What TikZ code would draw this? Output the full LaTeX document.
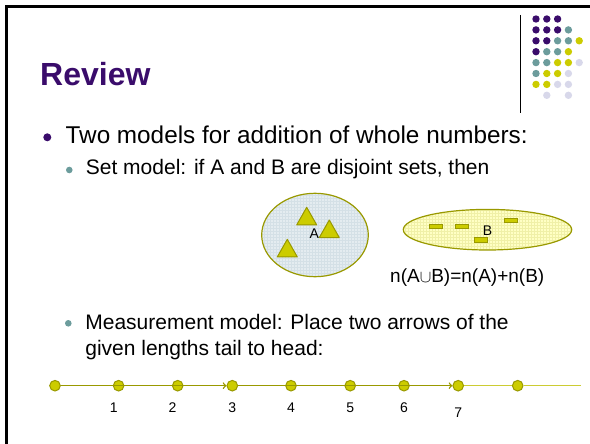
\documentclass[tikz,border=0pt]{standalone}
\usepackage{fontspec}
\setmainfont{Liberation Sans}
\usetikzlibrary{positioning,patterns}
\definecolor{titlepurple}{RGB}{58,12,107}
\definecolor{dotteal}{RGB}{108,156,156}
\definecolor{dotyellow}{RGB}{204,204,0}
\definecolor{dotlilac}{RGB}{216,216,234}
\definecolor{olivedark}{RGB}{153,153,0}
\definecolor{setblue}{RGB}{228,236,240}
\definecolor{setgrid}{RGB}{212,224,230}
\definecolor{setyellow}{RGB}{255,255,196}
\definecolor{lineyellow}{RGB}{204,204,51}

\begin{document}
\begin{tikzpicture}[x=1pt,y=-1pt,
  title/.style={anchor=base west,inner sep=0,text=titlepurple,font=\bfseries\fontsize{32}{38}\selectfont},
  lvlone/.style={anchor=base west,inner sep=0,font=\fontsize{24.3}{29}\selectfont},
  lvltwo/.style={anchor=base west,inner sep=0,font=\fontsize{21}{25}\selectfont},
  bulone/.style={circle,fill=titlepurple,minimum size=8pt,inner sep=0},
  bultwo/.style={circle,fill=dotteal,minimum size=6.6pt,inner sep=0},
  setbox/.style={draw=olivedark,line width=1.2pt},
  tri/.style={fill=dotyellow,draw=olivedark,line width=1pt,line join=round},
  bar/.style={fill=dotyellow,draw=olivedark,line width=0.9pt},
  small/.style={inner sep=0,font=\fontsize{14}{17}\selectfont},
  pt/.style={circle,fill=dotyellow,draw=olivedark,line width=1pt,minimum size=10.6pt,inner sep=0},
  numline/.style={lineyellow,line width=1pt},
  arrowA/.style={->,>=to,olivedark,line width=1.4pt}]
\useasboundingbox (0,0) rectangle (590,444);

%cadre
\draw[line width=2.7pt] (6.3,444) -- (6.3,6.3) -- (590,6.3);

%logo
\draw[line width=1.3pt] (520.5,15) -- (520.5,113.3);
\foreach \c/\r in {0/0,1/0,2/0,0/1,1/1,2/1,0/2,1/2,0/3}
  \fill[titlepurple] (536+10.8*\c,19+10.9*\r) circle (3.7pt);
\foreach \c/\r in {3/1,2/2,3/2,1/3,2/3,0/4,1/4,0/5}
  \fill[dotteal] (536+10.8*\c,19+10.9*\r) circle (3.7pt);
\foreach \c/\r in {4/2,3/3,2/4,3/4,1/5,2/5,0/6,1/6}
  \fill[dotyellow] (536+10.8*\c,19+10.9*\r) circle (3.7pt);
\foreach \c/\r in {4/4,3/5,2/6,3/6,1/7,3/7}
  \fill[dotlilac] (536+10.8*\c,19+10.9*\r) circle (3.7pt);

%texte
\node[title] (review) at (40,86) {Review};
\node[bulone] (b1) at (47.3,137.3) {};
\node[lvlone] (two) at (65.5,143.5) {Two models for addition of whole numbers:};
\node[bultwo] (b2) at (69.3,170) {};
\node[lvltwo] (setm) at (85.7,175) {Set model: if A and B are disjoint sets, then};
\node[bultwo] (b3) at (68.3,323.3) {};
\node[lvltwo] (meas) at (85.2,329.3) {Measurement model: Place two arrows of the};
\node[lvltwo] (given) at (85.2,355) {given lengths tail to head:};

%ensemble A
\draw[setbox,pattern=grid,pattern color=setgrid,preaction={fill=setblue}] (315,235) ellipse [x radius=53.3pt,y radius=41.7pt];
\foreach \x/\y in {306.7/207.3,329.3/220,287.3/239.3}
  \draw[tri] (\x,\y) -- ++(-10,17.6) -- ++(20,0) -- cycle;
\node[small] (labA) at (314.3,233.3) {A};

%ensemble B
\draw[setbox,pattern=grid,pattern color=setyellow!85!olivedark,preaction={fill=setyellow}] (487.5,229.7) ellipse [x radius=84.2pt,y radius=20.3pt];
\foreach \x/\y in {429.3/224.3,455/224.3,504/218,474.3/237.7}
  \draw[bar] (\x,\y) rectangle ++(13.4,4.4);
\node[small] (labB) at (487.5,230.3) {B};

\node[anchor=base west,inner sep=0,font=\fontsize{19}{22}\selectfont] (union) at (390,282) {n(A$\cup$B)=n(A)+n(B)};

%droite graduee
\foreach \x [count=\i from 0] in {55,118.6,177.7,232.3,291,350.2,404,458.2,517.7}
  \node[pt] (d\i) at (\x,385.7) {};
\coordinate (lend) at (581,385.7);
\draw[numline] (d7) -- (d8);
\draw[numline] (d8) -- (lend);
\draw[arrowA] (d0) -- (d3);
\draw[arrowA] (d3) -- (d7);

\foreach \x/\n in {113.7/1,172.4/2,232.3/3,291/4,350.2/5,404/6}
  \node[small] (l\n) at (\x,408) {\n};
\node[small] (l7) at (458.2,413) {7};

\end{tikzpicture}
\end{document}
